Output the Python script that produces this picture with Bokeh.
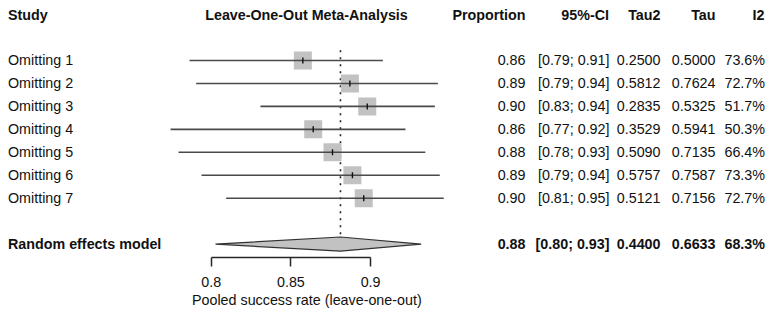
import numpy as np
from bokeh.plotting import figure
from bokeh.models import ColumnDataSource, LabelSet, Range1d, LinearAxis, FixedTicker, Title
from bokeh.core.properties import value
from bokeh.embed import file_html
from bokeh.resources import INLINE

# Leave-one-out results (proportion scale)
studies = ["Omitting 1", "Omitting 2", "Omitting 3", "Omitting 4",
           "Omitting 5", "Omitting 6", "Omitting 7"]
proportion = [0.8575, 0.8870, 0.8979, 0.8640, 0.8761, 0.8886, 0.8957]
ci_lower = [0.7864, 0.7906, 0.8309, 0.7745, 0.7795, 0.7939, 0.8094]
ci_upper = [0.9077, 0.9422, 0.9403, 0.9219, 0.9343, 0.9434, 0.9459]
tau2 = [0.2500, 0.5812, 0.2835, 0.3529, 0.5090, 0.5757, 0.5121]
tau = [0.5000, 0.7624, 0.5325, 0.5941, 0.7135, 0.7587, 0.7156]
i2 = [73.6, 72.7, 51.7, 50.3, 66.4, 73.3, 72.7]

# Random effects model (all studies)
pooled_label = "Random effects model"
pooled_prop = 0.8811
pooled_lower = 0.8027
pooled_upper = 0.9317
pooled_tau2 = 0.4400
pooled_tau = 0.6633
pooled_i2 = 68.3

tick_values = [0.8, 0.85, 0.9]
tick_labels = ["0.8", "0.85", "0.9"]

headers = ["Study", "Leave-One-Out Meta-Analysis", "Proportion", "95%-CI", "Tau2", "Tau", "I2"]
axis_title = "Pooled success rate (leave-one-out)"

FONT = "Liberation Sans"
FS = "14.3px"

rows = list(range(1, len(studies) + 1))
pooled_row = len(studies) + 2
header_row = -1


def fmt_ci(lo, hi):
    return f"[{lo:.2f}; {hi:.2f}]"


src = ColumnDataSource(dict(
    row=rows,
    study=studies,
    prop=proportion,
    lo=ci_lower,
    hi=ci_upper,
    prop_txt=[f"{v:.2f}" for v in proportion],
    ci_txt=[fmt_ci(a, b) for a, b in zip(ci_lower, ci_upper)],
    tau2_txt=[f"{v:.4f}" for v in tau2],
    tau_txt=[f"{v:.4f}" for v in tau],
    i2_txt=[f"{v:.1f}%" for v in i2],
))

pooled_src = ColumnDataSource(dict(
    row=[pooled_row],
    study=[pooled_label],
    prop_txt=[f"{pooled_prop:.2f}"],
    ci_txt=[fmt_ci(pooled_lower, pooled_upper)],
    tau2_txt=[f"{pooled_tau2:.4f}"],
    tau_txt=[f"{pooled_tau:.4f}"],
    i2_txt=[f"{pooled_i2:.1f}%"],
))

header_src = ColumnDataSource(dict(
    row=[header_row] * len(headers),
    x=[7.5, 306, 525, 608.5, 660, 715, 764],
    align=["left", "center", "right", "right", "right", "right", "right"],
    text=headers,
))

p = figure(width=772, height=319, output_backend="svg", toolbar_location=None,
           x_range=Range1d(0.66782, 1.15213), y_range=Range1d(9.584, -1.614),
           x_axis_type=None, y_axis_type=None,
           min_border_left=0, min_border_right=0, min_border_top=0, min_border_bottom=62)
p.outline_line_color = None
p.background_fill_color = "white"
p.border_fill_color = "white"

# x axis spanning the tick range only
xaxis = LinearAxis(
    bounds=(tick_values[0], tick_values[-1]),
    ticker=FixedTicker(ticks=tick_values, minor_ticks=[]),
    major_label_overrides=dict(zip(tick_values, tick_labels)),
    major_tick_in=0, major_tick_out=9, minor_tick_in=0, minor_tick_out=0,
    axis_line_color="#262626", axis_line_width=1.5,
    major_tick_line_color="#262626", major_tick_line_width=1.5,
    major_label_text_font=FONT, major_label_text_font_size=FS,
    major_label_text_color="#111111", major_label_standoff=10,
)
p.add_layout(xaxis, "below")

# axis title, centred under the plotting column
p.add_layout(Title(text=axis_title, align="left", offset=191.5, standoff=0,
                   text_font=FONT, text_font_size=FS, text_font_style="normal",
                   text_color="#111111"), "below")

# reference line at the pooled estimate
p.segment(x0=[pooled_prop], y0=[0.55], x1=[pooled_prop], y1=[8.7],
          line_color="#222222", line_width=1.6, line_dash="2 5")

# study squares, confidence intervals and estimate ticks
p.scatter(x="prop", y="row", source=src, marker="square", size=18,
          fill_color="#c2c2c2", line_color=None)
p.segment(x0="lo", y0="row", x1="hi", y1="row", source=src,
          line_color="#4a4a4a", line_width=1.6)
p.scatter(x="prop", y="row", source=src, marker="dash", angle=np.pi / 2, size=6,
          line_color="#111111", line_width=1.4)

# pooled diamond
p.patch(x=[pooled_lower, pooled_prop, pooled_upper, pooled_prop],
        y=[pooled_row, pooled_row - 0.31, pooled_row, pooled_row + 0.31],
        fill_color="#c2c2c2", line_color="#333333", line_width=1.2)


def add_col(source, field, x, align, bold=False):
    p.add_layout(LabelSet(
        x=x, y="row", text=field, source=source, x_units="screen", y_units="data",
        text_align=align, text_baseline="middle", text_font=value(FONT),
        text_font_size=FS, text_color="#111111",
        text_font_style="bold" if bold else "normal"))


for s, bold in ((src, False), (pooled_src, True)):
    add_col(s, "study", 7.5, "left", bold)
    add_col(s, "prop_txt", 525, "right", bold)
    add_col(s, "ci_txt", 609, "right", bold)
    add_col(s, "tau2_txt", 660, "right", bold)
    add_col(s, "tau_txt", 715, "right", bold)
    add_col(s, "i2_txt", 764.5, "right", bold)

p.add_layout(LabelSet(
    x="x", y="row", text="text", source=header_src, x_units="screen", y_units="data",
    text_align="align", text_baseline="middle", text_font=value(FONT),
    text_font_size=FS, text_color="#111111", text_font_style="bold"))

open("out.html", "w").write(file_html(p, INLINE))
